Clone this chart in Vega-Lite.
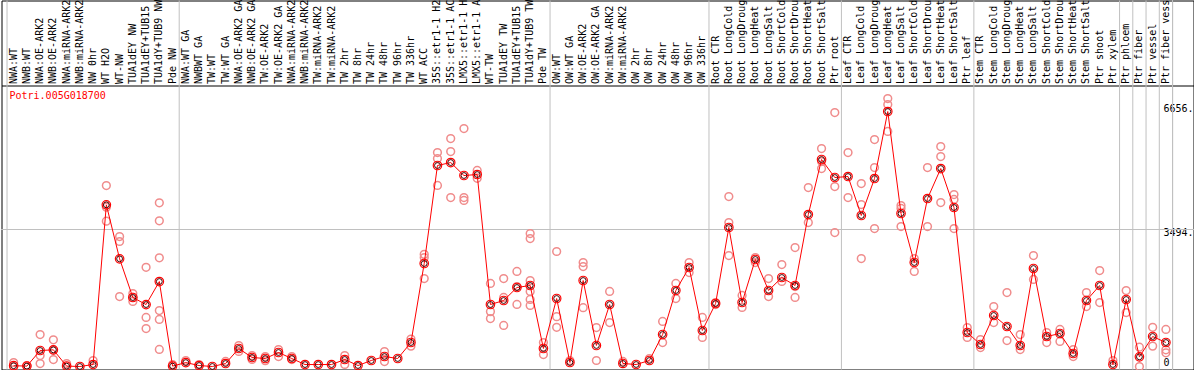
{
"$schema": "https://vega.github.io/schema/vega-lite/v6.json",
"width": 1192, "height": 369,
"autosize": "none",
"padding": {"left": 1.5, "top": 0.5, "right": 0.5, "bottom": 0.5},
"title": {"text": "Potri.005G018700", "orient": "bottom", "anchor": "start", "frame": "group", "color": "#ff0000", "font": "DejaVu Sans Mono", "fontSize": 10, "fontWeight": "normal", "offset": 0, "dx": 8, "dy": -282},
"datasets": {
"bounds": [{"sample": "NWA:WT"}, {"sample": "NWA:WT GA"}, {"sample": "OW:WT"}, {"sample": "Root CTR"}, {"sample": "Leaf CTR"}, {"sample": "Stem CTR"}, {"sample": "Ptr phloem"}, {"sample": "Ptr fiber"}, {"sample": "Ptr vessel"}, {"sample": "Ptr fiber vessel"}],
"mean": [
{"sample":"NWA:WT","value":20},{"sample":"NWB:WT","value":10},{"sample":"NWA:OE-ARK2","value":408},{"sample":"NWB:OE-ARK2","value":425},{"sample":"NWA:miRNA-ARK2","value":10},{"sample":"NWB:miRNA-ARK2","value":0},{"sample":"NW 0hr","value":50},{"sample":"WT H2O","value":4123},{"sample":"WT-NW","value":2746},{"sample":"TUA1dEY NW","value":1760},{"sample":"TUA1dEY+TUB15 NW","value":1580},{"sample":"TUA1dY+TUB9 NW","value":2167},{"sample":"Pde NW","value":10},
{"sample":"NWA:WT GA","value":100},{"sample":"NWBWT GA","value":25},{"sample":"TW:WT","value":0},{"sample":"TW:WT GA","value":76},{"sample":"NWA:OE-ARK2 GA","value":459},{"sample":"NWB:OE-ARK2 GA","value":230},{"sample":"TW:OE-ARK2","value":204},{"sample":"TW:OE-ARK2 GA","value":357},{"sample":"NWA:miRNA-ARK2 GA","value":204},{"sample":"NWB:miRNA-ARK2 GA","value":50},{"sample":"TW:miRNA-ARK2","value":50},{"sample":"TW:miRNA-ARK2 GA","value":50},{"sample":"TW 2hr","value":178},{"sample":"TW 8hr","value":25},{"sample":"TW 24hr","value":153},{"sample":"TW 48hr","value":255},{"sample":"TW 96hr","value":204},{"sample":"TW 336hr","value":612},{"sample":"WT ACC","value":2627},{"sample":"35S::etr1-1 H2O","value":5126},{"sample":"35S::etr1-1 ACC","value":5202},{"sample":"LMX5::etr1-1 H2O","value":4871},{"sample":"LMX5::etr1-1 ACC","value":4896},{"sample":"WT-TW","value":1581},{"sample":"TUA1dEY TW","value":1683},{"sample":"TUA1dEY+TUB15 TW","value":2015},{"sample":"TUA1dY+TUB9 TW","value":2066},{"sample":"Pde TW","value":459},
{"sample":"OW:WT","value":1734},{"sample":"OW:WT GA","value":102},{"sample":"OW:OE-ARK2","value":2193},{"sample":"OW:OE-ARK2 GA","value":536},{"sample":"OW:miRNA-ARK2","value":1581},{"sample":"OW:miRNA-ARK2 GA","value":77},{"sample":"OW 2hr","value":51},{"sample":"OW 8hr","value":153},{"sample":"OW 24hr","value":816},{"sample":"OW 48hr","value":1938},{"sample":"OW 96hr","value":2525},{"sample":"OW 336hr","value":918},
{"sample":"Root CTR","value":1607},{"sample":"Root LongCold","value":3545},{"sample":"Root LongDrought","value":1632},{"sample":"Root LongHeat","value":2729},{"sample":"Root LongSalt","value":1938},{"sample":"Root ShortCold","value":2270},{"sample":"Root ShortDrought","value":2066},{"sample":"Root ShortHeat","value":3876},{"sample":"Root ShortSalt","value":5279},{"sample":"Ptr root","value":4820},
{"sample":"Leaf CTR","value":4845},{"sample":"Leaf LongCold","value":3851},{"sample":"Leaf LongDrought","value":4794},{"sample":"Leaf LongHeat","value":6503},{"sample":"Leaf LongSalt","value":3902},{"sample":"Leaf ShortCold","value":2652},{"sample":"Leaf ShortDrought","value":4284},{"sample":"Leaf ShortHeat","value":5049},{"sample":"Leaf ShortSalt","value":4055},{"sample":"Ptr leaf","value":867},
{"sample":"Stem CTR","value":561},{"sample":"Stem LongCold","value":1301},{"sample":"Stem LongDrought","value":1020},{"sample":"Stem LongHeat","value":536},{"sample":"Stem LongSalt","value":2499},{"sample":"Stem ShortCold","value":765},{"sample":"Stem ShortDrought","value":842},{"sample":"Stem ShortHeat","value":332},{"sample":"Stem ShortSalt","value":1683},{"sample":"Ptr shoot","value":2066},{"sample":"Ptr xylem","value":51},
{"sample":"Ptr phloem","value":1709},{"sample":"Ptr fiber","value":247},{"sample":"Ptr vessel","value":765},{"sample":"Ptr fiber vessel","value":612}
],
"rep": [
{"sample":"NWA:WT","value":102},{"sample":"NWA:WT","value":0},
{"sample":"NWB:WT","value":25},
{"sample":"NWA:OE-ARK2","value":816},{"sample":"NWA:OE-ARK2","value":280},{"sample":"NWA:OE-ARK2","value":76},
{"sample":"NWB:OE-ARK2","value":680},{"sample":"NWB:OE-ARK2","value":417},{"sample":"NWB:OE-ARK2","value":178},
{"sample":"NWA:miRNA-ARK2","value":76},
{"sample":"NW 0hr","value":153},
{"sample":"WT H2O","value":4615},{"sample":"WT H2O","value":4063},{"sample":"WT H2O","value":3706},
{"sample":"WT-NW","value":3315},{"sample":"WT-NW","value":3188},{"sample":"WT-NW","value":1785},
{"sample":"TUA1dEY NW","value":1860},{"sample":"TUA1dEY NW","value":1760},{"sample":"TUA1dEY NW","value":1660},
{"sample":"TUA1dEY+TUB15 NW","value":2530},{"sample":"TUA1dEY+TUB15 NW","value":1250},{"sample":"TUA1dEY+TUB15 NW","value":969},
{"sample":"TUA1dY+TUB9 NW","value":4174},{"sample":"TUA1dY+TUB9 NW","value":3715},{"sample":"TUA1dY+TUB9 NW","value":2772},{"sample":"TUA1dY+TUB9 NW","value":1428},{"sample":"TUA1dY+TUB9 NW","value":1199},{"sample":"TUA1dY+TUB9 NW","value":434},
{"sample":"Pde NW","value":50},
{"sample":"NWA:WT GA","value":150},{"sample":"NWBWT GA","value":50},{"sample":"TW:WT GA","value":130},
{"sample":"NWA:OE-ARK2 GA","value":535},{"sample":"NWA:OE-ARK2 GA","value":383},
{"sample":"NWB:OE-ARK2 GA","value":280},{"sample":"NWB:OE-ARK2 GA","value":180},
{"sample":"TW:OE-ARK2","value":255},{"sample":"TW:OE-ARK2","value":150},
{"sample":"TW:OE-ARK2 GA","value":433},{"sample":"TW:OE-ARK2 GA","value":255},
{"sample":"NWA:miRNA-ARK2 GA","value":255},{"sample":"NWA:miRNA-ARK2 GA","value":178},
{"sample":"TW 2hr","value":280},{"sample":"TW 2hr","value":51},
{"sample":"TW 48hr","value":380},{"sample":"TW 48hr","value":127},
{"sample":"TW 336hr","value":700},{"sample":"TW 336hr","value":520},
{"sample":"WT ACC","value":2860},{"sample":"WT ACC","value":2780},{"sample":"WT ACC","value":2244},
{"sample":"35S::etr1-1 H2O","value":5457},{"sample":"35S::etr1-1 H2O","value":5304},{"sample":"35S::etr1-1 H2O","value":4617},
{"sample":"35S::etr1-1 ACC","value":5814},{"sample":"35S::etr1-1 ACC","value":5483},{"sample":"35S::etr1-1 ACC","value":4309},
{"sample":"LMX5::etr1-1 H2O","value":6069},{"sample":"LMX5::etr1-1 H2O","value":4310},{"sample":"LMX5::etr1-1 H2O","value":4234},
{"sample":"LMX5::etr1-1 ACC","value":5000},{"sample":"LMX5::etr1-1 ACC","value":4800},
{"sample":"WT-TW","value":2117},{"sample":"WT-TW","value":1400},{"sample":"WT-TW","value":1224},
{"sample":"TUA1dEY TW","value":2244},{"sample":"TUA1dEY TW","value":1760},{"sample":"TUA1dEY TW","value":1046},
{"sample":"TUA1dEY+TUB15 TW","value":2423},{"sample":"TUA1dEY+TUB15 TW","value":2040},{"sample":"TUA1dEY+TUB15 TW","value":1582},
{"sample":"TUA1dY+TUB9 TW","value":3392},{"sample":"TUA1dY+TUB9 TW","value":3264},{"sample":"TUA1dY+TUB9 TW","value":2193},{"sample":"TUA1dY+TUB9 TW","value":1913},{"sample":"TUA1dY+TUB9 TW","value":1709},{"sample":"TUA1dY+TUB9 TW","value":1556},
{"sample":"Pde TW","value":612},{"sample":"Pde TW","value":306},
{"sample":"OW:WT","value":2933},{"sample":"OW:WT","value":1270},{"sample":"OW:WT","value":1000},
{"sample":"OW:WT GA","value":150},
{"sample":"OW:OE-ARK2","value":2652},{"sample":"OW:OE-ARK2","value":2550},{"sample":"OW:OE-ARK2","value":1500},
{"sample":"OW:OE-ARK2 GA","value":994},{"sample":"OW:OE-ARK2 GA","value":153},
{"sample":"OW:miRNA-ARK2","value":1913},{"sample":"OW:miRNA-ARK2","value":1122},
{"sample":"OW:miRNA-ARK2 GA","value":130},{"sample":"OW 8hr","value":204},
{"sample":"OW 24hr","value":1148},{"sample":"OW 24hr","value":612},
{"sample":"OW 48hr","value":2117},{"sample":"OW 48hr","value":1734},
{"sample":"OW 96hr","value":2652},{"sample":"OW 96hr","value":2397},
{"sample":"OW 336hr","value":1250},{"sample":"OW 336hr","value":740},
{"sample":"Root CTR","value":1632},{"sample":"Root CTR","value":1581},
{"sample":"Root LongCold","value":4335},{"sample":"Root LongCold","value":3672},{"sample":"Root LongCold","value":2830},
{"sample":"Root LongDrought","value":1811},{"sample":"Root LongDrought","value":1505},
{"sample":"Root LongHeat","value":2780},{"sample":"Root LongHeat","value":2652},
{"sample":"Root LongSalt","value":2244},{"sample":"Root LongSalt","value":1785},
{"sample":"Root ShortCold","value":2601},{"sample":"Root ShortCold","value":2168},
{"sample":"Root ShortDrought","value":3034},{"sample":"Root ShortDrought","value":2040},{"sample":"Root ShortDrought","value":1760},
{"sample":"Root ShortHeat","value":4565},{"sample":"Root ShortHeat","value":3672},
{"sample":"Root ShortSalt","value":5559},{"sample":"Root ShortSalt","value":5228},{"sample":"Root ShortSalt","value":5049},
{"sample":"Ptr root","value":6477},{"sample":"Ptr root","value":4590},{"sample":"Ptr root","value":3417},
{"sample":"Leaf CTR","value":5457},{"sample":"Leaf CTR","value":4310},
{"sample":"Leaf LongCold","value":4667},{"sample":"Leaf LongCold","value":4131},{"sample":"Leaf LongCold","value":2754},
{"sample":"Leaf LongDrought","value":5789},{"sample":"Leaf LongDrought","value":5075},{"sample":"Leaf LongDrought","value":3518},
{"sample":"Leaf LongHeat","value":6834},{"sample":"Leaf LongHeat","value":6681},{"sample":"Leaf LongHeat","value":5994},
{"sample":"Leaf LongSalt","value":4106},{"sample":"Leaf LongSalt","value":4030},{"sample":"Leaf LongSalt","value":3570},
{"sample":"Leaf ShortCold","value":2754},{"sample":"Leaf ShortCold","value":2423},
{"sample":"Leaf ShortDrought","value":5075},{"sample":"Leaf ShortDrought","value":3570},
{"sample":"Leaf ShortHeat","value":5610},{"sample":"Leaf ShortHeat","value":5355},{"sample":"Leaf ShortHeat","value":4182},
{"sample":"Leaf ShortSalt","value":4386},{"sample":"Leaf ShortSalt","value":4260},{"sample":"Leaf ShortSalt","value":3519},
{"sample":"Ptr leaf","value":994},{"sample":"Ptr leaf","value":740},
{"sample":"Stem CTR","value":688},{"sample":"Stem CTR","value":484},
{"sample":"Stem LongCold","value":1530},{"sample":"Stem LongCold","value":1122},
{"sample":"Stem LongDrought","value":1887},{"sample":"Stem LongDrought","value":663},
{"sample":"Stem LongHeat","value":816},{"sample":"Stem LongHeat","value":433},
{"sample":"Stem LongSalt","value":2830},{"sample":"Stem LongSalt","value":2219},
{"sample":"Stem ShortCold","value":867},{"sample":"Stem ShortCold","value":612},
{"sample":"Stem ShortDrought","value":944},{"sample":"Stem ShortDrought","value":638},
{"sample":"Stem ShortHeat","value":433},{"sample":"Stem ShortHeat","value":255},
{"sample":"Stem ShortSalt","value":1887},{"sample":"Stem ShortSalt","value":1530},
{"sample":"Ptr shoot","value":2448},{"sample":"Ptr shoot","value":1632},
{"sample":"Ptr xylem","value":153},
{"sample":"Ptr phloem","value":1938},{"sample":"Ptr phloem","value":1377},
{"sample":"Ptr fiber","value":493},{"sample":"Ptr fiber","value":0},
{"sample":"Ptr vessel","value":1000},{"sample":"Ptr vessel","value":520},
{"sample":"Ptr fiber vessel","value":944},{"sample":"Ptr fiber vessel","value":426},{"sample":"Ptr fiber vessel","value":350}
]
},
"layer": [
{"data": {"name": "bounds"}, "mark": {"type": "rule", "color": "#c0c0c0", "strokeWidth": 1},
 "encoding": {"x": {"field": "sample", "type": "nominal", "bandPosition": 0}}},
{"data": {"name": "bounds"}, "mark": {"type": "rule", "color": "#c0c0c0", "strokeWidth": 1},
 "encoding": {"x": {"datum": "Ptr fiber vessel", "type": "nominal", "bandPosition": 1}}},
{"data": {"name": "bounds"}, "mark": {"type": "rule", "color": "#c0c0c0", "strokeWidth": 1},
 "encoding": {"y": {"datum": 3494, "type": "quantitative"}}},
{"data": {"name": "rep"}, "mark": {"type": "point", "shape": "circle", "filled": false, "color": "#f08c8c", "strokeWidth": 1.5, "size": 60, "opacity": 1},
 "encoding": {"x": {"field": "sample", "type": "nominal"}, "y": {"field": "value", "type": "quantitative"}}},
{"data": {"name": "mean"}, "mark": {"type": "line", "color": "#ff0000", "strokeWidth": 1},
 "encoding": {
  "x": {"field": "sample", "type": "nominal", "sort": null,
   "scale": {"type": "band", "domain": ["NWA:WT","NWB:WT","NWA:OE-ARK2","NWB:OE-ARK2","NWA:miRNA-ARK2","NWB:miRNA-ARK2","NW 0hr","WT H2O","WT-NW","TUA1dEY NW","TUA1dEY+TUB15 NW","TUA1dY+TUB9 NW","Pde NW","NWA:WT GA","NWBWT GA","TW:WT","TW:WT GA","NWA:OE-ARK2 GA","NWB:OE-ARK2 GA","TW:OE-ARK2","TW:OE-ARK2 GA","NWA:miRNA-ARK2 GA","NWB:miRNA-ARK2 GA","TW:miRNA-ARK2","TW:miRNA-ARK2 GA","TW 2hr","TW 8hr","TW 24hr","TW 48hr","TW 96hr","TW 336hr","WT ACC","35S::etr1-1 H2O","35S::etr1-1 ACC","LMX5::etr1-1 H2O","LMX5::etr1-1 ACC","WT-TW","TUA1dEY TW","TUA1dEY+TUB15 TW","TUA1dY+TUB9 TW","Pde TW","OW:WT","OW:WT GA","OW:OE-ARK2","OW:OE-ARK2 GA","OW:miRNA-ARK2","OW:miRNA-ARK2 GA","OW 2hr","OW 8hr","OW 24hr","OW 48hr","OW 96hr","OW 336hr","Root CTR","Root LongCold","Root LongDrought","Root LongHeat","Root LongSalt","Root ShortCold","Root ShortDrought","Root ShortHeat","Root ShortSalt","Ptr root","Leaf CTR","Leaf LongCold","Leaf LongDrought","Leaf LongHeat","Leaf LongSalt","Leaf ShortCold","Leaf ShortDrought","Leaf ShortHeat","Leaf ShortSalt","Ptr leaf","Stem CTR","Stem LongCold","Stem LongDrought","Stem LongHeat","Stem LongSalt","Stem ShortCold","Stem ShortDrought","Stem ShortHeat","Stem ShortSalt","Ptr shoot","Ptr xylem","Ptr phloem","Ptr fiber","Ptr vessel","Ptr fiber vessel"],
    "paddingInner": 0, "paddingOuter": 1.84615, "align": 0.20833, "round": false},
   "axis": {"orient": "top", "offset": -85, "labelAngle": -90, "labelAlign": "left", "labelBaseline": "middle", "labelPadding": 2, "ticks": false, "domain": true, "domainColor": "#000000", "domainWidth": 1, "grid": false, "title": null, "labelLimit": 0, "labelOverlap": false, "labelBound": false, "labelFont": "DejaVu Sans Mono", "labelFontSize": 10, "labelColor": "#000000"}},
  "y": {"field": "value", "type": "quantitative",
   "scale": {"domain": [-76.5, 9334.5], "nice": false, "zero": false},
   "axis": {"orient": "right", "values": [0, 3494, 6656], "labelExpr": "datum.value == 0 ? '0' : datum.value + '.'", "domain": false, "ticks": false, "grid": false, "labelPadding": -30.5, "labelAlign": "left", "labelBaseline": "middle", "labelOffset": {"condition": {"test": "datum.value == 0", "value": -4}, "value": 3}, "title": null, "labelFont": "DejaVu Sans Mono", "labelFontSize": 10, "labelColor": "#000000"}}
 }},
{"data": {"name": "mean"}, "mark": {"type": "point", "shape": "circle", "filled": false, "color": "#ff0000", "strokeWidth": 1.2, "size": 72, "opacity": 1},
 "encoding": {"x": {"field": "sample", "type": "nominal"}, "y": {"field": "value", "type": "quantitative"}}},
{"data": {"name": "mean"}, "mark": {"type": "point", "shape": "circle", "filled": false, "color": "#400000", "strokeWidth": 1, "size": 34, "opacity": 1},
 "encoding": {"x": {"field": "sample", "type": "nominal"}, "y": {"field": "value", "type": "quantitative"}}}
],
"config": {"view": {"stroke": "#000000", "strokeWidth": 1}, "background": "#ffffff"}
}
